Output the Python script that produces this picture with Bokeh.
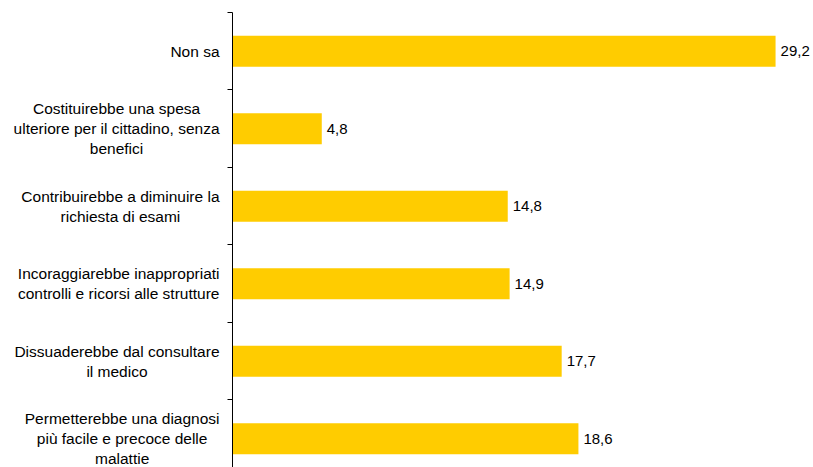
from bokeh.plotting import figure
from bokeh.models import ColumnDataSource, FixedTicker, Range1d
from bokeh.layouts import row
from bokeh.core.properties import value
from bokeh.embed import file_html
from bokeh.resources import INLINE

categories = [
    "Permetterebbe una diagnosi\npiù facile e precoce delle\nmalattie",
    "Dissuaderebbe dal consultare\nil medico",
    "Incoraggiarebbe inappropriati\ncontrolli e ricorsi alle strutture",
    "Contribuirebbe a diminuire la\nrichiesta di esami",
    "Costituirebbe una spesa\nulteriore per il cittadino, senza\nbenefici",
    "Non sa",
]
values = [18.6, 17.7, 14.9, 14.8, 4.8, 29.2]
value_labels = [f"{v:.1f}".replace(".", ",") for v in values]

positions = list(range(len(categories)))
source = ColumnDataSource(dict(y=positions, v=values, lab=value_labels,
                               cat=categories, xr=[1] * len(categories)))

FONT = "Liberation Sans"
FS = "15.5px"

yr = Range1d(-0.371, 5.5)

# label panel (category labels, centred lines, right-anchored block)
lp = figure(width=226, height=467, output_backend="svg", toolbar_location=None,
            x_range=Range1d(0, 1), y_range=yr, x_axis_location=None,
            y_axis_location=None, min_border_left=0, min_border_right=0,
            min_border_top=12, min_border_bottom=0)
lp.outline_line_color = None
lp.xgrid.visible = False
lp.ygrid.visible = False
lp.text(x="xr", y="y", text="cat", source=source, x_offset=-7,
        anchor="center_right", text_align="center", text_baseline="middle",
        text_font=value(FONT), text_font_size=FS, text_color="#000000",
        text_line_height=1.18)

# main bar panel
p = figure(width=587, height=467, output_backend="svg", toolbar_location=None,
           x_range=Range1d(0, 31.24), y_range=yr,
           x_axis_location=None, min_border_left=6, min_border_right=0,
           min_border_top=12, min_border_bottom=0)
p.outline_line_color = None
p.xgrid.visible = False
p.ygrid.visible = False

p.hbar(y="y", right="v", left=0, height=0.4, source=source,
       fill_color="#FFCC00", line_color=None)
p.text(x="v", y="y", text="lab", source=source, x_offset=5,
       text_baseline="middle", text_align="left",
       text_font=value(FONT), text_font_size="15px", text_color="#000000")

yax = p.yaxis[0]
yax.ticker = FixedTicker(ticks=[],
                         minor_ticks=[i + 0.5 for i in range(-1, len(categories))])
yax.major_label_text_color = None
yax.major_label_text_font_size = "0px"
yax.major_label_standoff = 0
yax.major_tick_out = 0
yax.major_tick_in = 0
yax.minor_tick_out = 5
yax.minor_tick_in = 0
yax.minor_tick_line_color = "#000000"
yax.axis_line_color = "#000000"

layout = row(lp, p, spacing=0)
open("out.html", "w").write(file_html(layout, INLINE))
